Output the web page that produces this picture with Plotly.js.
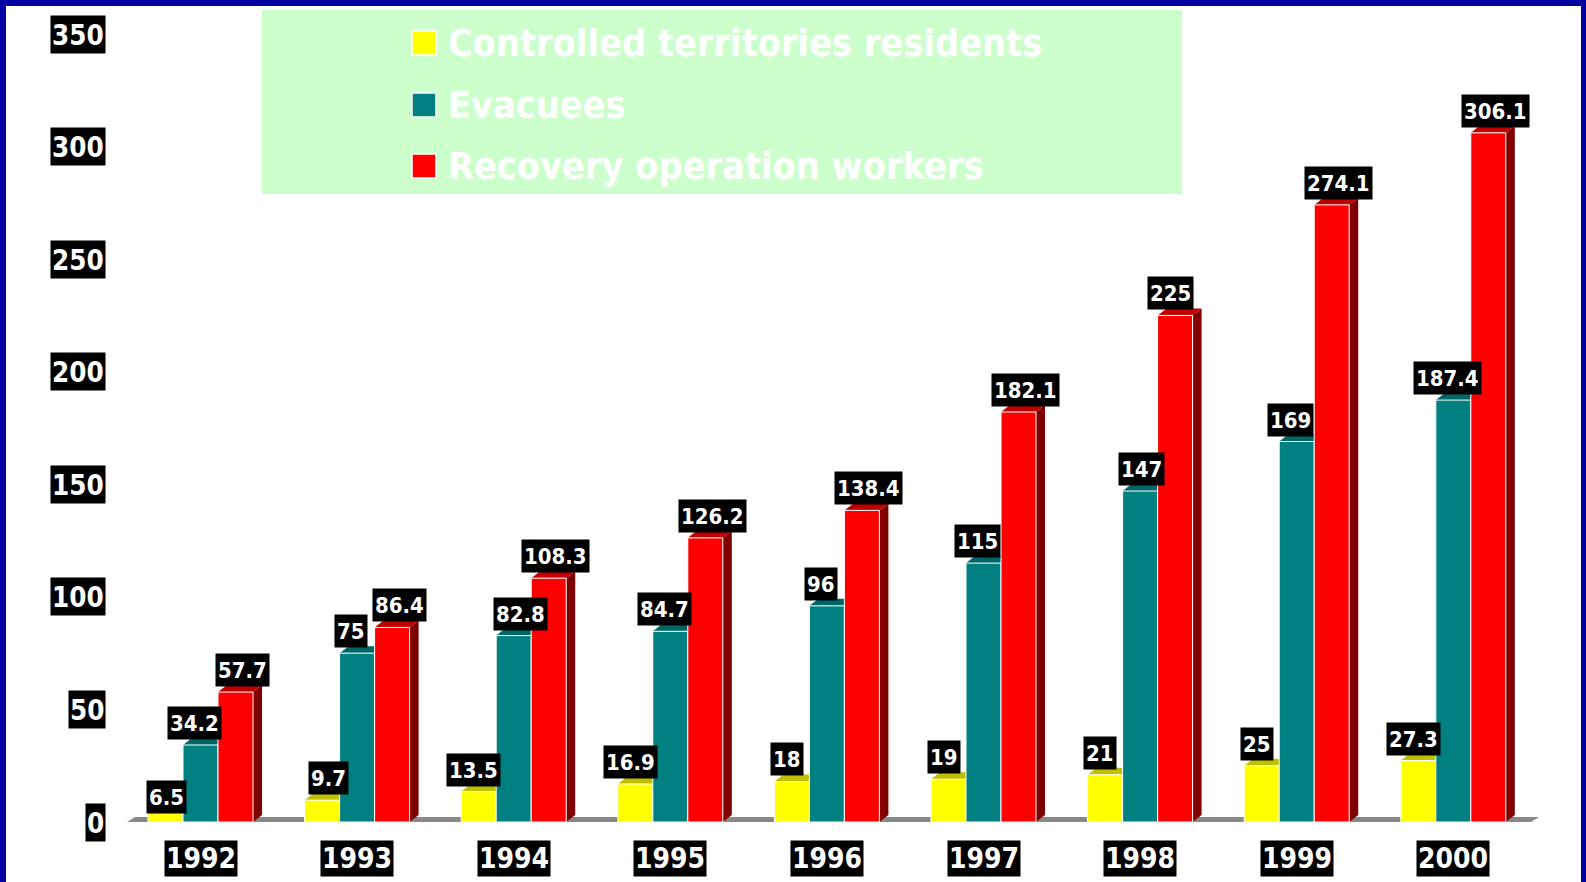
<!DOCTYPE html>
<html>
<head>
<meta charset="utf-8">
<script src="https://cdn.plot.ly/plotly-3.0.1.min.js"></script>
<style>
html,body{margin:0;padding:0;background:#fff;}
#chart{width:1586px;height:882px;}
</style>
</head>
<body>
<div id="chart"></div>
<script>
// ---- data ----
const years = ['1992','1993','1994','1995','1996','1997','1998','1999','2000'];
const seriesNames = ['Controlled territories residents','Evacuees','Recovery operation workers'];
const residents = [6.5, 9.7, 13.5, 16.9, 18, 19, 21, 25, 27.3];
const evacuees = [34.2, 75, 82.8, 84.7, 96, 115, 147, 169, 187.4];
const workers = [57.7, 86.4, 108.3, 126.2, 138.4, 182.1, 225, 274.1, 306.1];
const yTicks = [0, 50, 100, 150, 200, 250, 300, 350];

// ---- styles ----
const frontColors = ['#FFFF00', '#008080', '#FF0000'];
const topColors   = ['#C0C000', '#006666', '#C00000'];
const sideColors  = ['#808000', '#004C4C', '#800000'];
const labelShift  = [-5, -6, 7];
// small per-label placement nudges in pixels: "series-index": [dx, dy]
const labelNudge = {'0-0': [6, -12], '0-1': [11, 0], '1-2': [13, 0], '1-6': [7, 0], '2-6': [-12, 0]};
const FONT = 'DejaVu Sans Condensed, DejaVu Sans, sans-serif';

// plot area in pixels
const W = 1586, H = 882;
const L = 110, R = 1560, T = 34, B = 822;
const groupPx = 156.6, firstCenterPx = 200.5;
const xMin = (L - firstCenterPx) / groupPx, xMax = (R - firstCenterPx) / groupPx;
const yMax = 350;
const pxPerY = (B - T) / yMax;
const barW = 35 / groupPx;
const dxu = 9 / groupPx, dyu = 7 / pxPerY;
const px2paperX = p => (p - L) / (R - L);
const px2paperY = p => (B - p) / (B - T);

const series = [residents, evacuees, workers];
const offsets = [-barW, 0, barW];

const traces = [];
const annotations = [];

series.forEach((vals, s) => {
  const topX = [], topY = [], sideX = [], sideY = [], frX = [], frY = [];
  vals.forEach((v, i) => {
    const x0 = i + offsets[s] - barW / 2, x1 = x0 + barW;
    topX.push(x0, x1, x1 + dxu, x0 + dxu, x0, null);
    topY.push(v, v, v + dyu, v + dyu, v, null);
    sideX.push(x1, x1 + dxu, x1 + dxu, x1, x1, null);
    sideY.push(0, dyu, v + dyu, v, 0, null);
    frX.push(x0, x1, x1, x0, x0, null);
    frY.push(0, 0, v, v, 0, null);
    const nd = labelNudge[s + '-' + i] || [0, 0];
    annotations.push({
      x: i + offsets[s], y: v + dyu, xref: 'x', yref: 'y',
      xanchor: 'center', yanchor: 'bottom', xshift: labelShift[s] + nd[0], yshift: -2 + nd[1],
      text: String(v), showarrow: false, bgcolor: '#000000', borderpad: 2, height: 28,
      font: {family: FONT, size: 22, color: '#FFFFFF', weight: 'bold'}
    });
  });
  traces.push({type: 'scatter', mode: 'lines', x: sideX, y: sideY, fill: 'toself',
    fillcolor: sideColors[s], line: {width: 0, color: sideColors[s]}, hoverinfo: 'skip', showlegend: false});
  traces.push({type: 'scatter', mode: 'lines', x: topX, y: topY, fill: 'toself',
    fillcolor: topColors[s], line: {width: 0, color: topColors[s]}, hoverinfo: 'skip', showlegend: false});
  traces.push({type: 'scatter', mode: 'lines', x: frX, y: frY, fill: 'toself',
    fillcolor: frontColors[s], line: {width: 1, color: '#FFFFFF'}, hoverinfo: 'skip', showlegend: false,
    name: seriesNames[s]});
});

// y tick labels
yTicks.forEach(t => {
  annotations.push({
    x: px2paperX(106), y: t, xref: 'paper', yref: 'y', xanchor: 'right', yanchor: 'middle',
    text: String(t), showarrow: false, bgcolor: '#000000', borderpad: 1, height: 35,
    font: {family: FONT, size: 27.5, color: '#FFFFFF', weight: 'bold'}
  });
});
// x category labels
years.forEach((yr, i) => {
  annotations.push({
    x: i, y: px2paperY(858.5), xref: 'x', yref: 'paper', xanchor: 'center', yanchor: 'middle',
    text: yr, showarrow: false, bgcolor: '#000000', borderpad: 1, height: 33,
    font: {family: FONT, size: 28, color: '#FFFFFF', weight: 'bold'}
  });
});

// legend
const shapes = [];
const legendRows = [43, 105, 166];
shapes.push({type: 'rect', xref: 'paper', yref: 'paper', layer: 'below',
  x0: px2paperX(262), x1: px2paperX(1182), y0: px2paperY(10), y1: px2paperY(194),
  fillcolor: '#CCFFCC', line: {width: 0}});
seriesNames.forEach((nm, s) => {
  const cy = legendRows[s];
  shapes.push({type: 'rect', xref: 'paper', yref: 'paper', layer: 'above',
    x0: px2paperX(412), x1: px2paperX(436), y0: px2paperY(cy + 12), y1: px2paperY(cy - 12),
    fillcolor: frontColors[s], line: {width: 1.5, color: '#FFFFFF'}});
  annotations.push({
    x: px2paperX(446), y: px2paperY(cy), xref: 'paper', yref: 'paper', xanchor: 'left', yanchor: 'middle',
    text: nm, showarrow: false,
    font: {family: FONT, size: 37.5, color: '#FFFFFF', weight: 'bold'}
  });
});

// floor
const fx0 = -0.469, fx1 = years.length - 1 + 0.496;
const fdx = 8 / groupPx, fdy = 5 / pxPerY;
shapes.push({type: 'path', xref: 'x', yref: 'y', layer: 'below',
  path: `M ${fx0},0 L ${fx1},0 L ${fx1 + fdx},${fdy} L ${fx0 + fdx},${fdy} Z`,
  fillcolor: '#888888', line: {width: 0}});

// blue frame (left, top, right)
const frame = '#0000A0';
shapes.push({type: 'rect', xref: 'paper', yref: 'paper', layer: 'above',
  x0: px2paperX(0), x1: px2paperX(6), y0: px2paperY(H), y1: px2paperY(0), fillcolor: frame, line: {width: 0}});
shapes.push({type: 'rect', xref: 'paper', yref: 'paper', layer: 'above',
  x0: px2paperX(0), x1: px2paperX(W), y0: px2paperY(6), y1: px2paperY(0), fillcolor: frame, line: {width: 0}});
shapes.push({type: 'rect', xref: 'paper', yref: 'paper', layer: 'above',
  x0: px2paperX(1581), x1: px2paperX(W), y0: px2paperY(H), y1: px2paperY(0), fillcolor: frame, line: {width: 0}});

const layout = {
  width: W, height: H,
  margin: {l: L, r: W - R, t: T, b: H - B, pad: 0},
  paper_bgcolor: '#FFFFFF', plot_bgcolor: 'rgba(0,0,0,0)',
  showlegend: false,
  xaxis: {range: [xMin, xMax], showgrid: false, zeroline: false, showticklabels: false, ticks: '', showline: false, fixedrange: true},
  yaxis: {range: [0, yMax], showgrid: false, zeroline: false, showticklabels: false, ticks: '', showline: false, fixedrange: true},
  annotations: annotations,
  shapes: shapes
};

Plotly.newPlot('chart', traces, layout, {displayModeBar: false, staticPlot: true});
</script>
</body>
</html>
